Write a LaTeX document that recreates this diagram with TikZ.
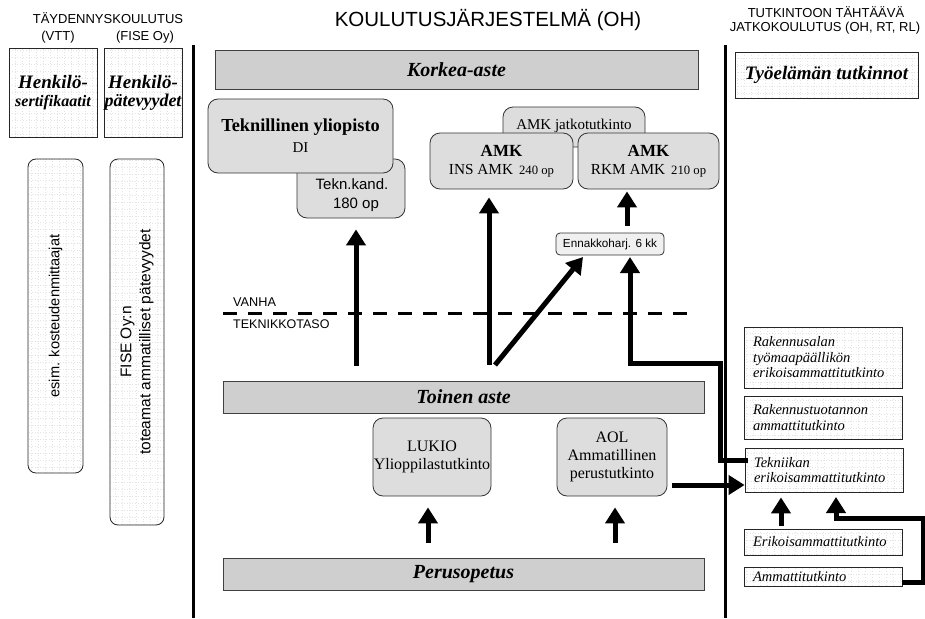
\documentclass[tikz,border=0pt]{standalone}
\usepackage{fontspec}
\setmainfont{Liberation Serif}
\setsansfont{Liberation Sans}
\usetikzlibrary{arrows.meta}
\newcommand{\fs}[2]{\fontsize{#1}{#2}\selectfont}
\tikzset{
  every node/.style={inner sep=0pt},
  bar/.style={draw=black!75, fill=gray!38, line width=1pt, font=\fs{20}{24}\bfseries\itshape},
  rbox/.style={draw=black!80, fill=gray!27, rounded corners=10pt, line width=0.8pt, align=center},
  gbox/.style={draw=black!85, fill=white, line width=0.8pt,
    path picture={\draw[gray!22, dotted, step=7pt] (path picture bounding box.south west) grid (path picture bounding box.north east);}},
  rtext/.style={gbox, align=left, text width=140pt, inner xsep=9pt, font=\fs{14.5}{15.5}\itshape},
  bigarrow/.style={line width=5pt, -{Triangle[width=19pt,length=16pt]}},
  divider/.style={line width=3pt},
  sanstitle/.style={font=\sffamily\fs{13}{15}},
}
\begin{document}
\begin{tikzpicture}[x=1pt,y=-1pt]
\useasboundingbox (0,0) rectangle (925,618);

% titles
\node[sanstitle] (tdk) at (108,18) {TÄYDENNYSKOULUTUS};
\node[sanstitle] (vtt) at (58,37.5) {(VTT)};
\node[sanstitle] (fiseoy) at (145,37.5) {(FISE Oy)};
\node[font=\sffamily\fs{20.5}{23}] (koul) at (488,20.5) {KOULUTUSJÄRJESTELMÄ (OH)};
\node[sanstitle] (tut1) at (826,12) {TUTKINTOON TÄHTÄÄVÄ};
\node[sanstitle] (tut2) at (825,28.5) {JATKOKOULUTUS (OH, RT, RL)};

% dividers
\coordinate (v1t) at (193,45); \coordinate (v1b) at (193,618);
\coordinate (v2t) at (725,45); \coordinate (v2b) at (725,618);
\draw[divider] (v1t) -- (v1b);
\draw[divider] (v2t) -- (v2b);

% left column
\node[gbox, minimum width=88pt, minimum height=89pt, align=center, font=\fs{19}{18}\bfseries\itshape]
  (sert) at (53,92.5) {Henkilö-\\{\fs{16}{18}sertifikaatit}};
\node[gbox, minimum width=78pt, minimum height=89pt, align=center, font=\fs{19}{18}\bfseries\itshape]
  (pat) at (143,92.5) {Henkilö-\\{\fs{18}{18}pätevyydet}};
\node[gbox, rounded corners=8pt, rotate=90, minimum width=314pt, minimum height=55pt,
  font=\sffamily\fs{14.6}{17}] (esim) at (55.5,316) {esim. kosteudenmittaajat};
\node[gbox, rounded corners=8pt, rotate=90, minimum width=366pt, minimum height=54pt,
  align=center, font=\sffamily\fs{15.5}{19}] (fise) at (137,342) {FISE Oy:n\\toteamat ammatilliset pätevyydet};

% middle: korkea-aste
\node[bar, minimum width=483pt, minimum height=38pt] (korkea) at (456.5,70) {Korkea-aste};

\node[rbox, minimum width=108pt, minimum height=59pt] (tk) at (351,188.5) {};
\node[align=center, font=\sffamily\fs{15}{19}] (tktext) at (352,195) {Tekn.kand.\\\hspace*{8pt}180 op};
\node[rbox, minimum width=185pt, minimum height=74pt, font=\fs{18.3}{20}] (ty) at (300.5,136)
  {\textbf{Teknillinen yliopisto}\\[1pt]{\fs{15}{17}DI}};

\node[rbox, minimum width=142pt, minimum height=40pt] (jatko) at (574,127) {};
\node[font=\fs{15}{17}] (jatkotext) at (574,126) {AMK jatkotutkinto};
\node[rbox, minimum width=143pt, minimum height=56pt, font=\fs{17}{18}] (ins) at (501.5,161)
  {\textbf{AMK}\\{\fs{15.3}{17}INS AMK\hspace{6pt}{\fs{12.7}{15}240 op}}};
\node[rbox, minimum width=141pt, minimum height=56pt, font=\fs{17}{18}] (rkm) at (648.5,161)
  {\textbf{AMK}\\{\fs{15.3}{17}RKM AMK\hspace{6pt}{\fs{12.7}{15}210 op}}};
\node[rbox, rounded corners=4pt, fill=gray!12, minimum width=108pt, minimum height=22pt,
  font=\sffamily\fs{11.7}{14}] (enn) at (610,244) {Ennakkoharj. 6 kk};

% old technician level
\coordinate (d1) at (223,313); \coordinate (d2) at (697,313);
\draw[line width=3pt, dash pattern=on 14pt off 11pt] (d1) -- (d2);
\node[anchor=west, font=\sffamily\fs{12.7}{15}] (vanha) at (233,302) {VANHA};
\node[anchor=west, font=\sffamily\fs{12.5}{15}] (tekt) at (233,324) {TEKNIKKOTASO};

% toinen aste
\node[bar, minimum width=481pt, minimum height=32pt] (toinen) at (463.5,397) {Toinen aste};
\node[rbox, minimum width=118pt, minimum height=78pt, font=\fs{16}{18}] (lukio) at (432,457)
  {LUKIO\\Ylioppilastutkinto};
\node[rbox, minimum width=110pt, minimum height=78pt, font=\fs{16}{18}] (aol) at (612,457)
  {AOL\\Ammatillinen\\perustutkinto};
\node[bar, minimum width=481pt, minimum height=32pt] (perus) at (463.5,574) {Perusopetus};

% right column
\node[gbox, minimum width=183pt, minimum height=46pt, font=\fs{19}{21}\bfseries\itshape]
  (tyo) at (826.5,75) {Työelämän tutkinnot};
\node[rtext, minimum height=61pt] (rak) at (823,357.5)
  {Rakennusalan\\työmaapäällikön\\erikoisammattitutkinto};
\node[rtext, minimum height=43pt] (rakt) at (823,417.5)
  {Rakennustuotannon\\ammattitutkinto};
\node[rtext, minimum height=44pt] (tek) at (824,470)
  {Tekniikan\\erikoisammattitutkinto};
\node[rtext, minimum height=26pt] (eri) at (823,542) {Erikoisammattitutkinto};
\node[rtext, minimum height=19pt] (amm) at (823,576.5) {Ammattitutkinto};

% arrows
\coordinate (a1s) at (356,366);
\draw[bigarrow, shorten >=11pt] (a1s) -- (a1s |- tk.south);
\coordinate (a2s) at (489,365);
\draw[bigarrow, shorten >=8pt] (a2s) -- (a2s |- ins.south);
\coordinate (a3s) at (495,365); \coordinate (a3e) at (583,257);
\draw[bigarrow] (a3s) -- (a3e);
\coordinate (a4s) at (627,226);
\draw[bigarrow, shorten >=2pt] (a4s) -- (a4s |- rkm.south);
\coordinate (a5s) at (748,460); \coordinate (a5a) at (720,363); \coordinate (a5b) at (630,257);
\draw[bigarrow, line join=miter] (a5s) -| (a5a) -| (a5b);
\coordinate (a6s) at (672,485);
\draw[bigarrow] (a6s) -- (a6s -| tek.west);
\coordinate (a7s) at (428,543);
\draw[bigarrow, shorten >=11pt] (a7s) -- (a7s |- lukio.south);
\coordinate (a8s) at (615,543);
\draw[bigarrow, shorten >=11pt] (a8s) -- (a8s |- aol.south);
\coordinate (a9s) at (781,526);
\draw[bigarrow, shorten >=5pt] (a9s) -- (a9s |- tek.south);
\coordinate (b1s) at (902,582); \coordinate (b1a) at (923,518); \coordinate (b1e) at (836,497);
\draw[bigarrow, line join=miter] (b1s) -| (b1a) -| (b1e);
\end{tikzpicture}
\end{document}
